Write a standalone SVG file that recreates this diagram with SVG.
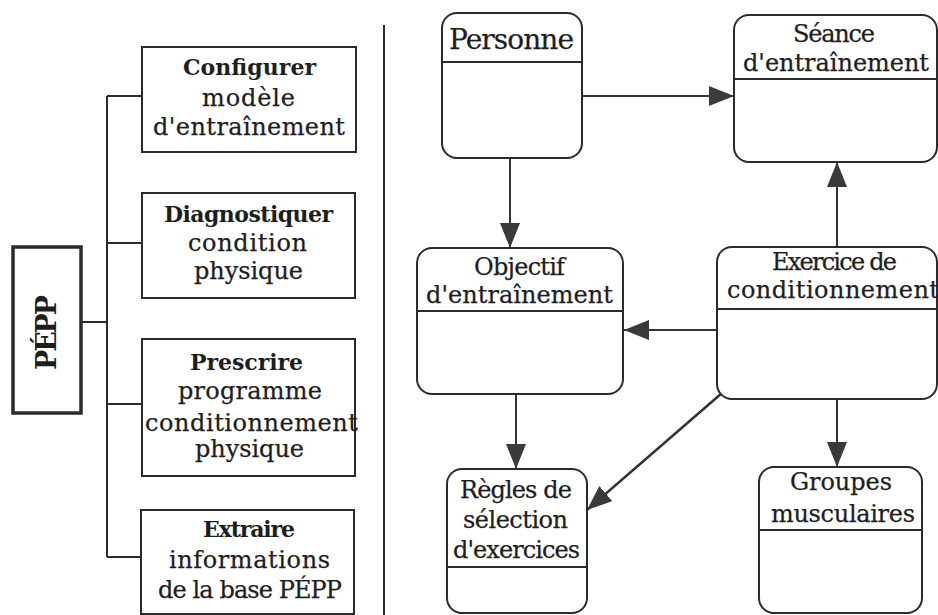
<svg xmlns="http://www.w3.org/2000/svg" width="938" height="615" viewBox="0 0 938 615">
  <style>
    .box { fill: #ffffff; stroke: #2b2b2b; stroke-width: 2; }
    .root { fill: #ffffff; stroke: #2b2b2b; stroke-width: 3.5; }
    .sep { stroke: #2b2b2b; stroke-width: 2; fill: none; }
    .tree { stroke: #2b2b2b; stroke-width: 2; fill: none; }
    .link { stroke: #333333; stroke-width: 2; fill: none; marker-end: url(#arrow); }
    .t { font-family: "DejaVu Serif", "Liberation Serif", serif; font-size: 24px; fill: #1e1e1e; stroke: #1e1e1e; stroke-width: 0.25; text-anchor: middle; }
    .b { font-weight: bold; font-size: 22px; stroke-width: 0; }
    .big { font-size: 28px; }
    .root-label { font-size: 27px; font-weight: bold; stroke-width: 0; }
  </style>
  <defs>
    <marker id="arrow" markerUnits="userSpaceOnUse" markerWidth="26" markerHeight="20" refX="25" refY="10" orient="auto">
      <path d="M0,0 L25,10 L0,20 Z" fill="#3a3a3a"/>
    </marker>
  </defs>

  <rect width="938" height="615" fill="#ffffff"/>

  <!-- vertical separator between the two panels -->
  <line class="sep" x1="384" y1="25" x2="384" y2="615"/>

  <!-- left panel: function tree -->
  <g id="tree-lines">
    <path class="tree" d="M81,322 H107 M107,96 V557 M107,96 H142 M107,243 H142 M107,404 H142 M107,557 H141"/>
  </g>

  <g id="pepp">
    <rect class="root" x="13" y="247" width="68" height="166"/>
    <text class="t root-label" transform="translate(56,332.5) rotate(-90)" textLength="75">PÉPP</text>
  </g>

  <g id="configurer">
    <rect class="box" x="142" y="47" width="214" height="105"/>
    <text class="t b" x="249.5" y="75" textLength="133">Configurer</text>
    <text class="t" x="248.5" y="106" textLength="93">modèle</text>
    <text class="t" x="249" y="135" textLength="192">d'entraînement</text>
  </g>

  <g id="diagnostiquer">
    <rect class="box" x="142" y="193" width="213" height="105"/>
    <text class="t b" x="248.5" y="222" textLength="169">Diagnostiquer</text>
    <text class="t" x="247.5" y="251" textLength="119">condition</text>
    <text class="t" x="248.5" y="279" textLength="109">physique</text>
  </g>

  <g id="prescrire">
    <rect class="box" x="142" y="339" width="213" height="137"/>
    <text class="t b" x="246.5" y="370" textLength="113">Prescrire</text>
    <text class="t" x="250" y="399" textLength="144">programme</text>
    <text class="t" x="251.5" y="431" textLength="213">conditionnement</text>
    <text class="t" x="249.5" y="457" textLength="109">physique</text>
  </g>

  <g id="extraire">
    <rect class="box" x="141" y="510" width="213" height="104"/>
    <text class="t b" x="249" y="537" textLength="92">Extraire</text>
    <text class="t" x="249.5" y="568" textLength="161">informations</text>
    <text class="t" x="250" y="598" textLength="184">de la base PÉPP</text>
  </g>

  <!-- right panel: data model -->
  <g id="connectors">
    <line class="link" x1="582" y1="96" x2="734" y2="96"/>
    <line class="link" x1="510" y1="158" x2="510" y2="248"/>
    <line class="link" x1="837" y1="247" x2="837" y2="162"/>
    <line class="link" x1="717" y1="330" x2="624" y2="330"/>
    <line class="link" x1="516" y1="394" x2="516" y2="469"/>
    <line class="link" x1="722" y1="393" x2="587" y2="510" style="stroke-width:2.5"/>
    <line class="link" x1="837" y1="399" x2="837" y2="467"/>
  </g>

  <g id="personne">
    <rect class="box" x="442" y="13" width="140" height="145" rx="15"/>
    <line class="box" x1="442" y1="62" x2="582" y2="62"/>
    <text class="t big" x="511.5" y="49" textLength="125">Personne</text>
  </g>

  <g id="seance">
    <rect class="box" x="734" y="15" width="203" height="147" rx="15"/>
    <line class="box" x1="734" y1="79" x2="937" y2="79"/>
    <text class="t" x="834" y="42" textLength="82">Séance</text>
    <text class="t" x="836" y="71" textLength="186">d'entraînement</text>
  </g>

  <g id="objectif">
    <rect class="box" x="417" y="248" width="206" height="146" rx="15"/>
    <line class="box" x1="417" y1="311" x2="623" y2="311"/>
    <text class="t" x="519.5" y="275" textLength="91">Objectif</text>
    <text class="t" x="519.5" y="303" textLength="187">d'entraînement</text>
  </g>

  <g id="exercice">
    <rect class="box" x="717" y="247" width="220" height="152" rx="15"/>
    <line class="box" x1="717" y1="309" x2="937" y2="309"/>
    <text class="t" x="834.5" y="270" textLength="125">Exercice de</text>
    <text class="t" x="727" y="298" style="text-anchor:start" textLength="212">conditionnement</text>
  </g>

  <g id="regles">
    <rect class="box" x="447" y="469" width="140" height="144" rx="15"/>
    <line class="box" x1="447" y1="567" x2="587" y2="567"/>
    <text class="t" x="516" y="498" textLength="112">Règles de</text>
    <text class="t" x="515.5" y="528" textLength="105">sélection</text>
    <text class="t" x="516.5" y="558" textLength="127">d'exercices</text>
  </g>

  <g id="groupes">
    <rect class="box" x="759" y="467" width="163" height="146" rx="15"/>
    <line class="box" x1="759" y1="530" x2="922" y2="530"/>
    <text class="t" x="841" y="490" textLength="102">Groupes</text>
    <text class="t" x="843" y="522" textLength="144">musculaires</text>
  </g>
</svg>
